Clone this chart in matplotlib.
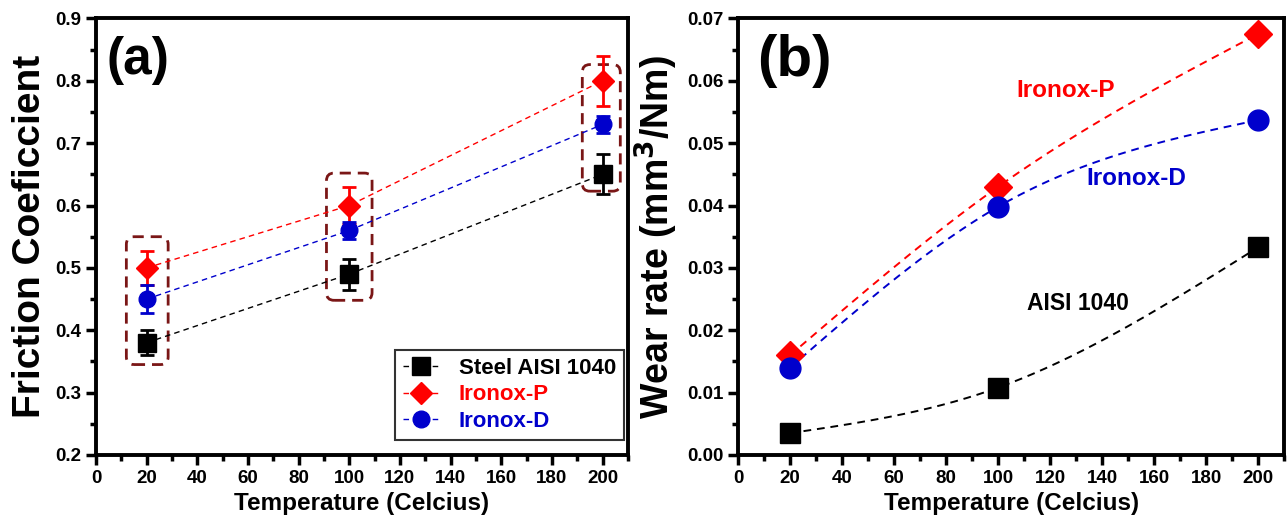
import numpy as np
import matplotlib
matplotlib.use("Agg")
from matplotlib import pyplot as plt
from matplotlib.patches import FancyBboxPatch
from matplotlib.ticker import MultipleLocator, FormatStrFormatter

plt.rcParams['font.family'] = ['Liberation Sans', 'DejaVu Sans']
plt.rcParams['font.weight'] = 'bold'

temps = [20, 100, 200]

# panel (a) friction coefficient
steel_mu = [0.38, 0.49, 0.65]
steel_err = [0.02, 0.025, 0.032]
ironox_p_mu = [0.50, 0.60, 0.80]
ironox_p_err = [0.027, 0.03, 0.04]
ironox_d_mu = [0.45, 0.56, 0.73]
ironox_d_err = [0.023, 0.013, 0.014]

# dashed boxes around groups: (x0, x1, y0, y1)
group_boxes = [(12, 28.5, 0.345, 0.55), (91, 109, 0.448, 0.652), (192, 207, 0.623, 0.826)]

# panel (b) wear rate
steel_wear = [0.0035, 0.0108, 0.0333]
ironox_p_wear = [0.016, 0.043, 0.0675]
ironox_d_wear = [0.014, 0.0398, 0.0537]

BLACK = "#000000"
RED = "#ff0000"
BLUE = "#0000cc"
BOX = "#7a1616"


def natural_spline(xs, ys, grid):
    # natural cubic spline through the points, like the origin "spline" connect
    xs = np.asarray(xs, float)
    ys = np.asarray(ys, float)
    n = len(xs)
    h = np.diff(xs)
    A = np.zeros((n, n))
    b = np.zeros(n)
    A[0, 0] = A[-1, -1] = 1
    for i in range(1, n - 1):
        A[i, i - 1] = h[i - 1]
        A[i, i] = 2 * (h[i - 1] + h[i])
        A[i, i + 1] = h[i]
        b[i] = 6 * ((ys[i + 1] - ys[i]) / h[i] - (ys[i] - ys[i - 1]) / h[i - 1])
    M = np.linalg.solve(A, b)
    out = np.empty_like(grid)
    for k, g in enumerate(grid):
        i = min(np.searchsorted(xs, g, side="right") - 1, n - 2)
        i = max(i, 0)
        t0 = xs[i + 1] - g
        t1 = g - xs[i]
        out[k] = (M[i] * t0 ** 3 + M[i + 1] * t1 ** 3) / (6 * h[i]) \
            + (ys[i] / h[i] - M[i] * h[i] / 6) * t0 \
            + (ys[i + 1] / h[i] - M[i + 1] * h[i] / 6) * t1
    return out


def style_axes(ax):
    for s in ax.spines.values():
        s.set_linewidth(2.8)
    ax.tick_params(which="major", direction="out", length=7, width=2.5, labelsize=13.5, top=False, right=False)
    ax.tick_params(which="minor", direction="out", length=4, width=2.5, top=False, right=False)
    ax.xaxis.set_major_locator(MultipleLocator(20))
    ax.xaxis.set_minor_locator(MultipleLocator(10))
    for lbl in ax.get_xticklabels() + ax.get_yticklabels():
        lbl.set_fontweight("bold")


def main():
    fig = plt.figure(figsize=(12.88, 5.26), dpi=100)
    ax1 = fig.add_axes([0.0745, 0.135, 0.413, 0.83])
    ax2 = fig.add_axes([0.573, 0.135, 0.424, 0.83])

    # ---- (a)
    series = [
        (steel_mu, steel_err, BLACK, "s", 13, "Steel AISI 1040"),
        (ironox_p_mu, ironox_p_err, RED, "D", 11, "Ironox-P"),
        (ironox_d_mu, ironox_d_err, BLUE, "o", 12, "Ironox-D"),
    ]
    handles = []
    for vals, err, col, mk, ms, name in series:
        ax1.plot(temps, vals, ls=(0, (4, 3)), lw=1, color=col, zorder=2)
        ax1.errorbar(temps, vals, yerr=err, fmt="none", ecolor=col, elinewidth=2,
                     capsize=5, capthick=2, zorder=3)
        ax1.plot(temps, vals, ls="none", marker=mk, ms=ms, color=col, zorder=4)
        h, = ax1.plot([], [], ls=(0, (4, 3)), lw=1, color=col, marker=mk, ms=ms, label=name)
        handles.append(h)

    for x0, x1, y0, y1 in group_boxes:
        p = FancyBboxPatch((x0, y0), x1 - x0, y1 - y0,
                           boxstyle="round,pad=0,rounding_size=3", mutation_aspect=0.0041,
                           fill=False, ec=BOX, lw=2, ls=(0, (4, 2.5)), zorder=1)
        ax1.add_patch(p)

    ax1.set_xlim(0, 210)
    ax1.set_ylim(0.2, 0.9)
    ax1.yaxis.set_major_locator(MultipleLocator(0.1))
    ax1.yaxis.set_minor_locator(MultipleLocator(0.05))
    style_axes(ax1)
    ax1.set_xlabel("Temperature (Celcius)", fontsize=17.5, fontweight="bold")
    ax1.set_ylabel("Friction Coeficcient", fontsize=28, fontweight="bold", labelpad=5)
    ax1.text(0.02, 0.96, "(a)", transform=ax1.transAxes, fontsize=37, fontweight="bold",
             va="top", ha="left")
    leg = ax1.legend(handles=handles, loc="lower right", bbox_to_anchor=(0.992, 0.035),
                     fontsize=16, frameon=True, fancybox=False, edgecolor="black",
                     handlelength=1.6, borderaxespad=0, labelspacing=0.25,
                     borderpad=0.35, handletextpad=0.9)
    leg.get_frame().set_linewidth(1.5)
    for t, c in zip(leg.get_texts(), [BLACK, RED, BLUE]):
        t.set_color(c)
        t.set_fontweight("bold")

    # ---- (b)
    grid = np.linspace(20, 200, 300)
    wear = [
        (steel_wear, BLACK, "s", 14),
        (ironox_p_wear, RED, "D", 14),
        (ironox_d_wear, BLUE, "o", 15),
    ]
    for vals, col, mk, ms in wear:
        ax2.plot(grid, natural_spline(temps, vals, grid), ls=(0, (4, 3)), lw=1.4, color=col, zorder=2)
        ax2.plot(temps, vals, ls="none", marker=mk, ms=ms, color=col, zorder=3)

    ax2.text(107, 0.0585, "Ironox-P", color=RED, fontsize=17.5, fontweight="bold", va="center")
    ax2.text(134, 0.0443, "Ironox-D", color=BLUE, fontsize=17.5, fontweight="bold", va="center")
    ax2.text(111, 0.0243, "AISI 1040", color=BLACK, fontsize=16.5, fontweight="bold", va="center")

    ax2.set_xlim(0, 210)
    ax2.set_ylim(0, 0.07)
    ax2.yaxis.set_major_locator(MultipleLocator(0.01))
    ax2.yaxis.set_minor_locator(MultipleLocator(0.005))
    ax2.yaxis.set_major_formatter(FormatStrFormatter("%.2f"))
    style_axes(ax2)
    ax2.set_xlabel("Temperature (Celcius)", fontsize=17.5, fontweight="bold")
    ax2.set_ylabel("Wear rate (mm$^\\mathbf{3}$/Nm)", fontsize=27, fontweight="bold", labelpad=5)
    ax2.text(0.035, 0.965, "(b)", transform=ax2.transAxes, fontsize=42, fontweight="bold",
             va="top", ha="left")

    fig.savefig("out.png", dpi=100)


if __name__ == '__main__':
    main()
